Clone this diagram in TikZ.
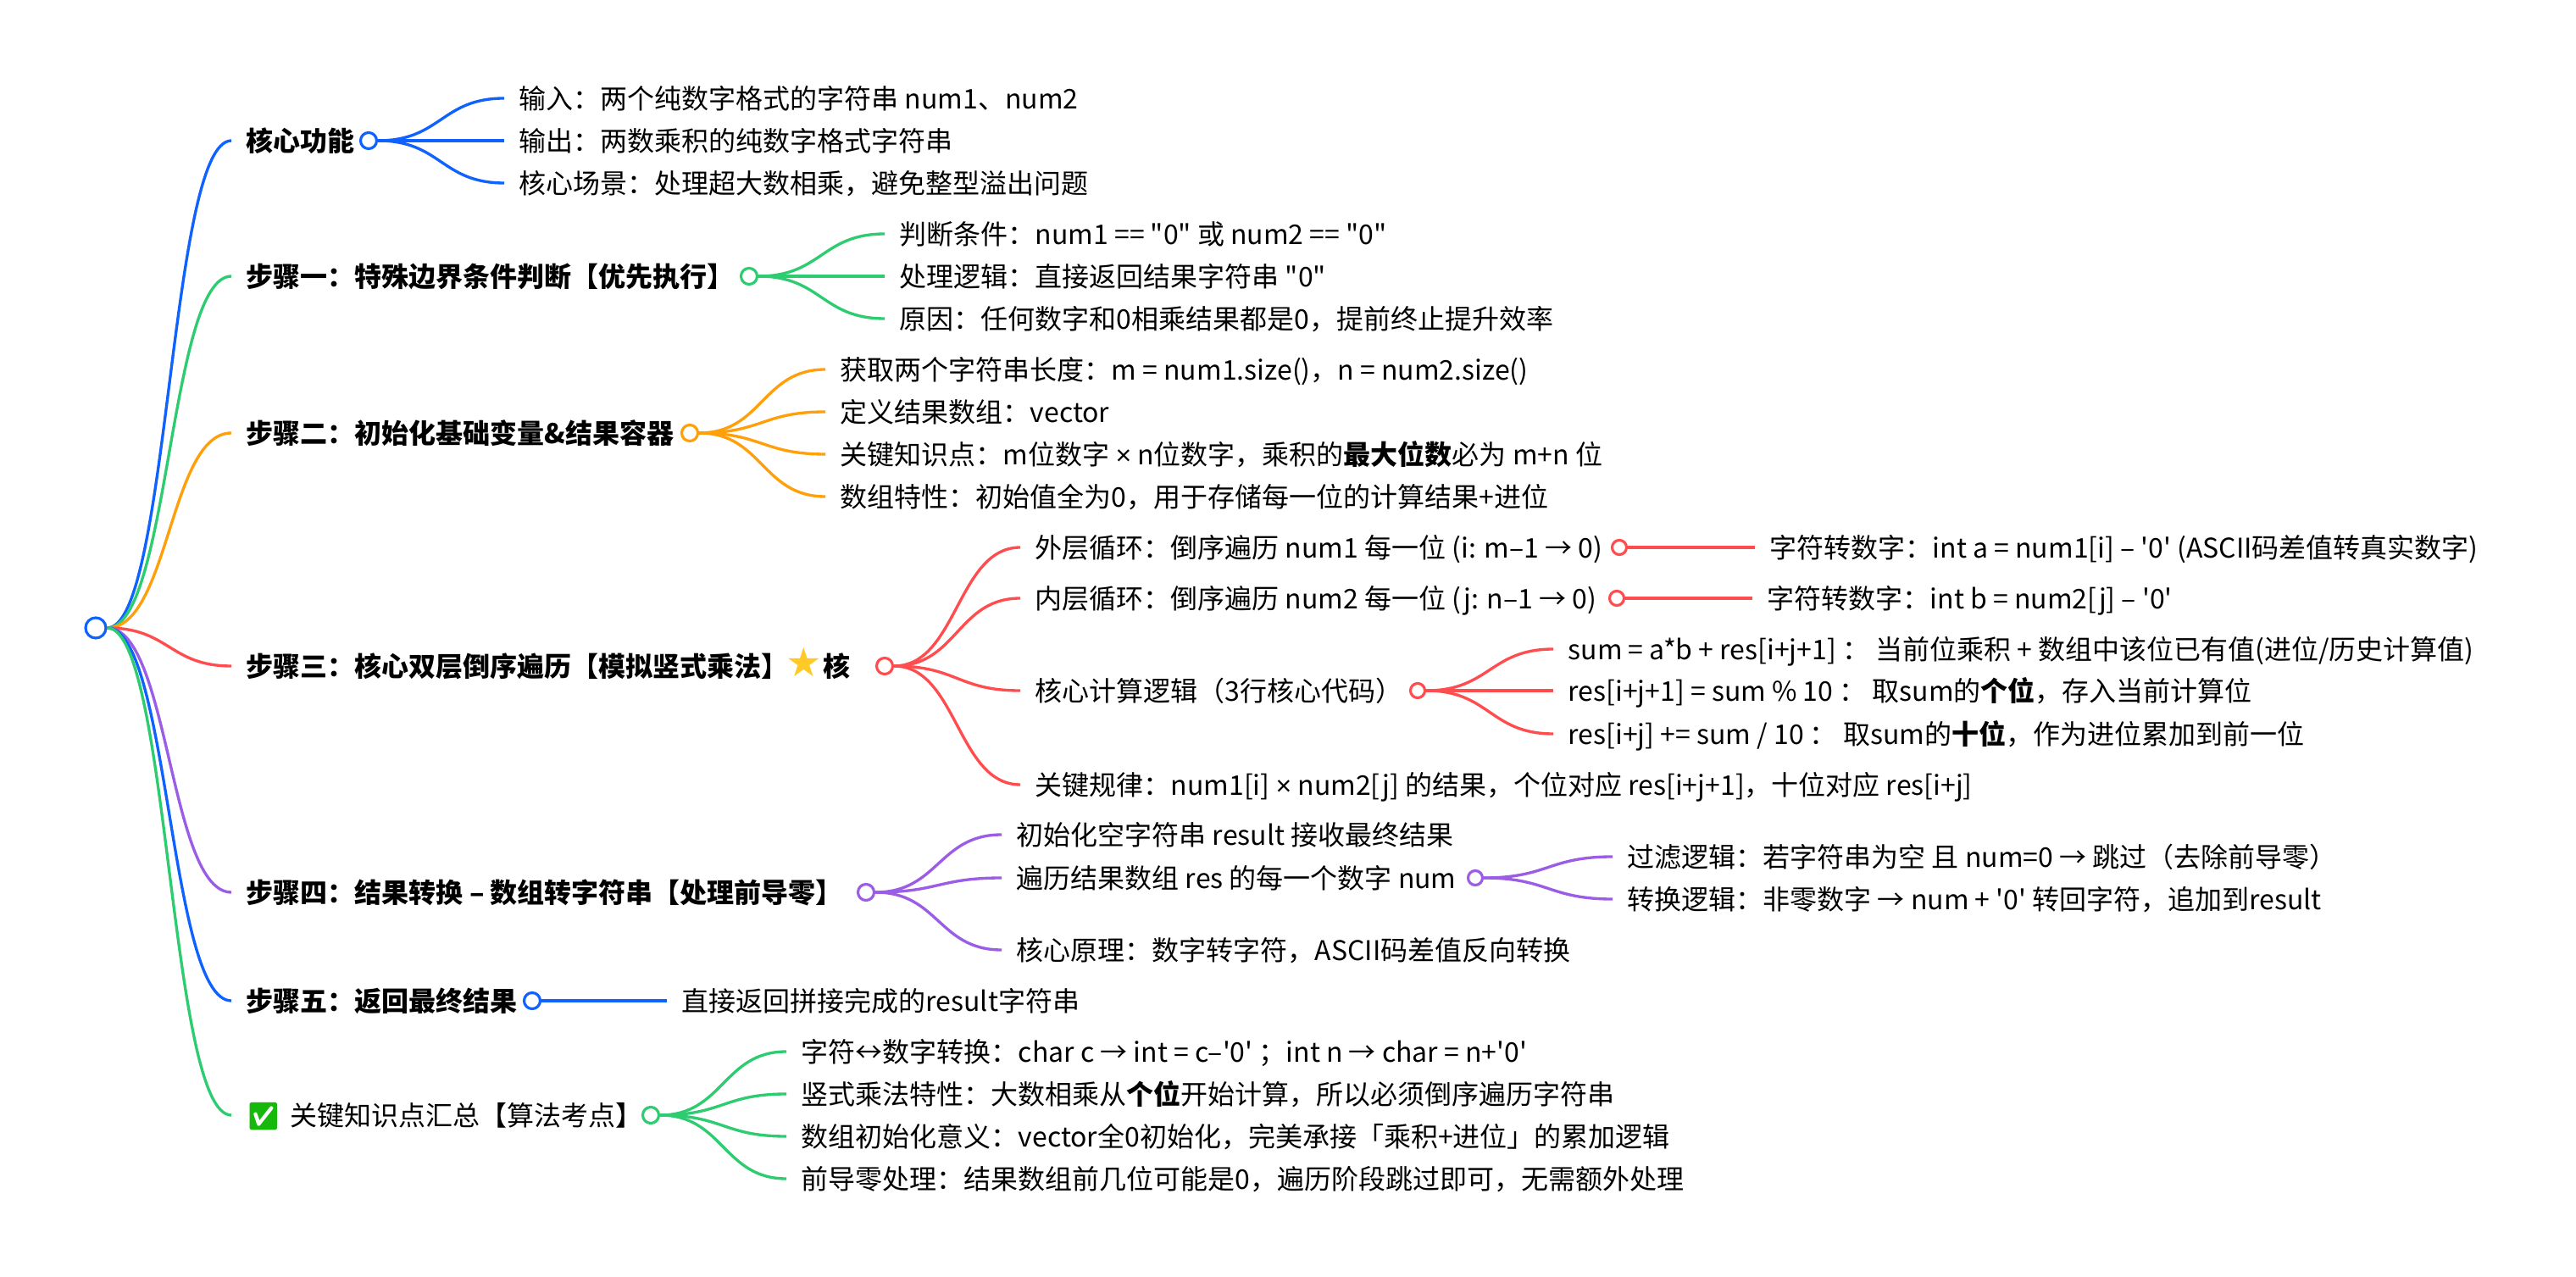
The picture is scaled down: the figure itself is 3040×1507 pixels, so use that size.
\documentclass[tikz,border=0pt]{standalone}
\usepackage{fontspec}
\setmainfont{Noto Sans CJK SC}[Ligatures=TeXOff]
\newfontfamily\emojifont{Noto Emoji}
\newfontfamily\symfont{DejaVu Sans}
\newfontfamily\latinfont{Liberation Sans}
\newcommand\mul{{\latinfont ×}}
\usetikzlibrary{calc}
\definecolor{cblue}{HTML}{0F62FE}
\definecolor{cgreen}{HTML}{2ECC71}
\definecolor{corange}{HTML}{FF9F0A}
\definecolor{cred}{HTML}{FF4D4F}
\definecolor{cpurple}{HTML}{9B5DE5}
\definecolor{cstar}{HTML}{FFC928}
\definecolor{ccheck}{HTML}{16B80C}

\begin{document}
\begin{tikzpicture}[x=0.01cm,y=-0.01cm,
  every node/.style={font=\fontsize{9.1}{11}\selectfont},
  leaf/.style={anchor=west,inner ysep=0pt,inner xsep=0.17cm,text height=9pt,text depth=2pt},
  head/.style={leaf,font=\fontsize{9.1}{11}\selectfont\bfseries},
  spot/.style={circle,draw=#1,fill=white,line width=0.9pt,inner sep=0pt,minimum size=0.19cm},
  subspot/.style={spot=#1,minimum size=0.17cm},
  link/.style={line width=0.95pt}]
\useasboundingbox (0,0) rectangle (3040,1507);
% ================ 根 ================
\node[spot=cblue,minimum size=0.24cm] (root) at (113,741) {};
% ================ 核心功能 ================
\node[head] (core) at (273,166) {核心功能};
\node[spot=cblue] (coreDot) at (435,166) {};
\node[leaf] (coreA) at (595,116) {输入：两个纯数字格式的字符串 num1、num2};
\node[leaf] (coreB) at (595,166) {输出：两数乘积的纯数字格式字符串};
\node[leaf] (coreC) at (595,216) {核心场景：处理超大数相乘，避免整型溢出问题};
% ================ 步骤一 ================
\node[head] (one) at (273,326) {步骤一：特殊边界条件判断【优先执行】};
\node[spot=cgreen] (oneDot) at (884,326) {};
\node[leaf] (oneA) at (1044,276) {判断条件：num1 == "0" 或 num2 == "0"};
\node[leaf] (oneB) at (1044,326) {处理逻辑：直接返回结果字符串 "0"};
\node[leaf] (oneC) at (1044,376) {原因：任何数字和0相乘结果都是0，提前终止提升效率};
% ================ 步骤二 ================
\node[head] (two) at (273,511) {步骤二：初始化基础变量\&结果容器};
\node[spot=corange] (twoDot) at (814,511) {};
\node[leaf] (twoA) at (974,436) {获取两个字符串长度：m = num1.size()，n = num2.size()};
\node[leaf] (twoB) at (974,486) {定义结果数组：vector};
\node[leaf] (twoC) at (974,536) {关键知识点：m位数字 \mul{} n位数字，乘积的\textbf{最大位数}必为 m+n 位};
\node[leaf] (twoD) at (974,586) {数组特性：初始值全为0，用于存储每一位的计算结果+进位};
% ================ 步骤三 ================
\node[head] (three) at (273,786) {步骤三：核心双层倒序遍历【模拟竖式乘法】\hspace{-1pt}{\normalfont\fontsize{13.5}{11}\symfont\textcolor{cstar}{★}}\hspace{-1.5pt} 核};
\node[spot=cred] (threeDot) at (1044,786) {};
\node[leaf] (outer) at (1204,646) {外层循环：倒序遍历 num1 每一位 (i: m–1 → 0)};
\node[subspot=cred] (outerDot) at (1911,646) {};
\node[leaf] (outerA) at (2071,646) {字符转数字：int a = num1[i] – '0' (ASCII码差值转真实数字)};
\node[leaf] (inner) at (1204,706) {内层循环：倒序遍历 num2 每一位 (j: n–1 → 0)};
\node[subspot=cred] (innerDot) at (1908,706) {};
\node[leaf] (innerA) at (2068,706) {字符转数字：int b = num2[j] – '0'};
\node[leaf] (calc) at (1204,815) {核心计算逻辑（3行核心代码）};
\node[subspot=cred] (calcDot) at (1673,815) {};
\node[leaf] (calcA) at (1833,766) {sum = a*b + res[i+j+1] ： 当前位乘积 + 数组中该位已有值(进位/历史计算值)};
\node[leaf] (calcB) at (1833,815) {res[i+j+1] = sum \% 10 ： 取sum的\textbf{个位}，存入当前计算位};
\node[leaf] (calcC) at (1833,866) {res[i+j] += sum / 10 ： 取sum的\textbf{十位}，作为进位累加到前一位};
\node[leaf] (rule) at (1204,926) {关键规律：num1[i] \mul{} num2[j] 的结果，个位对应 res[i+j+1]，十位对应 res[i+j]};
% ================ 步骤四 ================
\node[head] (four) at (273,1053) {步骤四：结果转换 – 数组转字符串【处理前导零】};
\node[spot=cpurple] (fourDot) at (1022,1053) {};
\node[leaf] (fourA) at (1182,985) {初始化空字符串 result 接收最终结果};
\node[leaf] (fourB) at (1182,1036) {遍历结果数组 res 的每一个数字 num};
\node[subspot=cpurple] (fourBDot) at (1741,1036) {};
\node[leaf] (fourBA) at (1903,1011) {过滤逻辑：若字符串为空 且 num=0 → 跳过（去除前导零）};
\node[leaf] (fourBB) at (1903,1061) {转换逻辑：非零数字 → num + '0' 转回字符，追加到result};
\node[leaf] (fourC) at (1182,1121) {核心原理：数字转字符，ASCII码差值反向转换};
% ================ 步骤五 ================
\node[head] (five) at (273,1181) {步骤五：返回最终结果};
\node[spot=cblue] (fiveDot) at (628,1181) {};
\node[leaf] (fiveA) at (787,1181) {直接返回拼接完成的result字符串};
% ================ 汇总 ================
\node[leaf] (sum) at (273,1316) {{\emojifont\textcolor{ccheck}{✅}}\hspace{1pt} 关键知识点汇总【算法考点】};
\node[spot=cgreen] (sumDot) at (768,1316) {};
\node[leaf] (sumA) at (928,1241) {字符↔数字转换：char c → int = c–'0' ；int n → char = n+'0'};
\node[leaf] (sumB) at (928,1291) {竖式乘法特性：大数相乘从\textbf{个位}开始计算，所以必须倒序遍历字符串};
\node[leaf] (sumC) at (928,1341) {数组初始化意义：vector全0初始化，完美承接「乘积+进位」的累加逻辑};
\node[leaf] (sumD) at (928,1391) {前导零处理：结果数组前几位可能是0，遍历阶段跳过即可，无需额外处理};
% ================ 连线 ================
\foreach \c/\a/\b in {cblue/root/core,cgreen/root/one,corange/root/two,cred/root/three,
  cpurple/root/four,cblue/root/five,cgreen/root/sum,
  cblue/coreDot/coreA,cblue/coreDot/coreB,cblue/coreDot/coreC,
  cgreen/oneDot/oneA,cgreen/oneDot/oneB,cgreen/oneDot/oneC,
  corange/twoDot/twoA,corange/twoDot/twoB,corange/twoDot/twoC,corange/twoDot/twoD,
  cred/threeDot/outer,cred/threeDot/inner,cred/threeDot/calc,cred/threeDot/rule,
  cred/outerDot/outerA,cred/innerDot/innerA,
  cred/calcDot/calcA,cred/calcDot/calcB,cred/calcDot/calcC,
  cpurple/fourDot/fourA,cpurple/fourDot/fourB,cpurple/fourDot/fourC,
  cpurple/fourBDot/fourBA,cpurple/fourBDot/fourBB,
  cblue/fiveDot/fiveA,
  cgreen/sumDot/sumA,cgreen/sumDot/sumB,cgreen/sumDot/sumC,cgreen/sumDot/sumD}{
  \draw[link,\c] let \p1=(\a.east),\p2=(\b.west),\n1={0.5*\x1+0.5*\x2} in
    (\p1) .. controls (\n1,\y1) and (\n1,\y2) .. (\p2);
}
\end{tikzpicture}
\end{document}
